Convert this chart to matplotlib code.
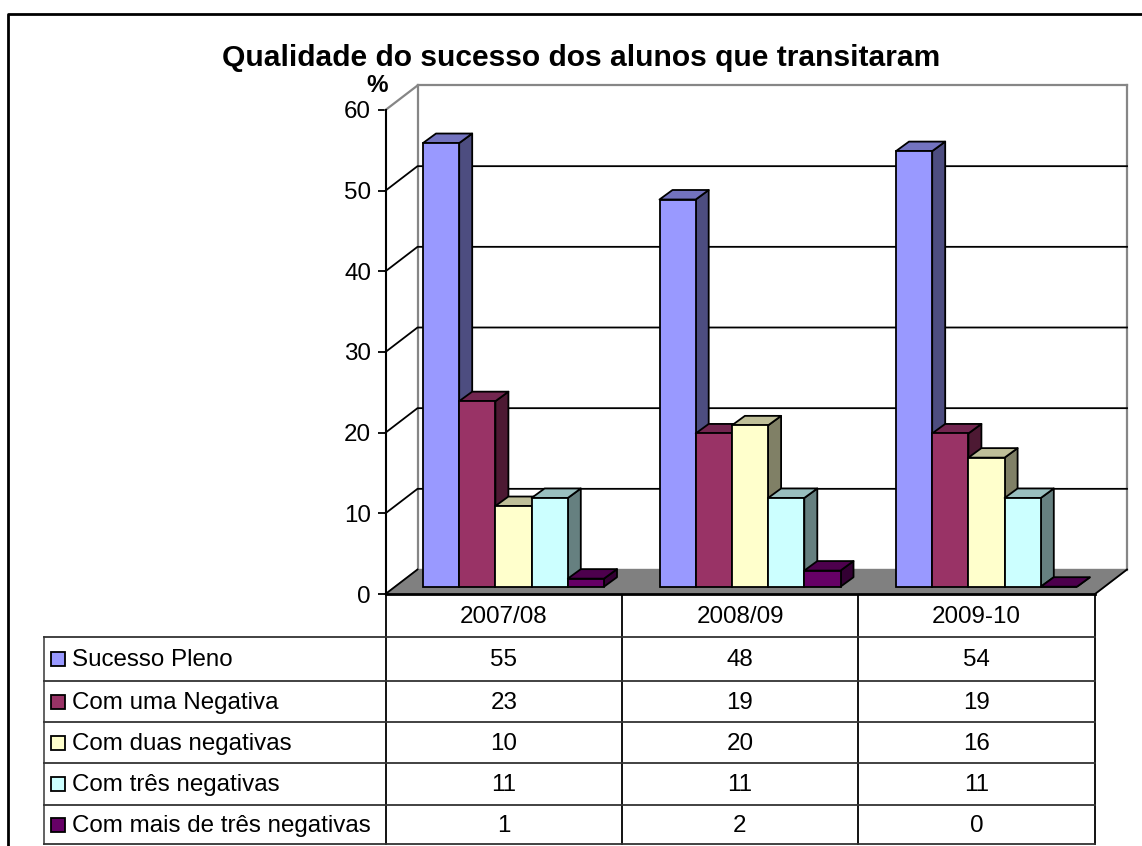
import matplotlib
matplotlib.use('Agg')

import matplotlib.pyplot as plt
from matplotlib.patches import Polygon, Rectangle

plt.rcParams['font.family'] = ['Liberation Sans', 'DejaVu Sans']

# ---------------- DATA ----------------
categories = ['2007/08', '2008/09', '2009-10']
series_names = ['Sucesso Pleno', 'Com uma Negativa', 'Com duas negativas',
                'Com três negativas', 'Com mais de três negativas']
sucesso_pleno = [55, 48, 54]
uma_negativa = [23, 19, 19]
duas_negativas = [10, 20, 16]
tres_negativas = [11, 11, 11]
mais_negativas = [1, 2, 0]
series_values = [sucesso_pleno, uma_negativa, duas_negativas, tres_negativas, mais_negativas]
y_ticks = [0, 10, 20, 30, 40, 50, 60]

# front, top and side colours (excel style shading)
front_colors = ['#9999FF', '#993366', '#FFFFCC', '#CCFFFF', '#660066']
top_colors = ['#7373BF', '#732650', '#BFBF99', '#99BFBF', '#4D004D']
side_colors = ['#4D4D80', '#4D1933', '#808066', '#668080', '#330033']

W, H = 1142, 846
fig = plt.figure(figsize=(W / 100, H / 100), dpi=100, facecolor='white')

# overlay in pixel coords for frame, table lines and labels
canvas = fig.add_axes([0, 0, 1, 1], zorder=1)
canvas.set_xlim(0, W)
canvas.set_ylim(H, 0)
canvas.axis('off')

# ---------------- GEOMETRY (pixels) ----------------
plot_left, plot_right = 385.5, 1095
y_zero, y_top = 594, 110
wall_dx, wall_dy = 32, 24.5
depth_dx, depth_dy = 13, 9.5
bar_px = 36.2
first_bar = 37.5
bar_base = 7.3
row_y = [637.5, 681, 722.5, 763.5, 805, 844.5]
col_x = [385.5, 622, 858, 1095]
table_left = 44

ax = fig.add_axes([plot_left / W, 1 - y_zero / H,
                   (plot_right - plot_left) / W, (y_zero - y_top) / H], zorder=2)
ax.set_xlim(0, len(categories))
ax.set_ylim(0, 60)
ax.patch.set_alpha(0)
for s in ax.spines.values():
    s.set_visible(False)

px_x = (plot_right - plot_left) / len(categories)
px_y = (y_zero - y_top) / 60
dx = wall_dx / px_x
dy = wall_dy / px_y
ddx = depth_dx / px_x
ddy = depth_dy / px_y
bw = bar_px / px_x
x0 = first_bar / px_x
base = bar_base / px_y
n_cat = len(categories)
wall_c = '#868686'

# ---------------- WALLS AND FLOOR ----------------
ax.add_patch(Polygon([(0, 0), (dx, dy), (n_cat + dx, dy), (n_cat, 0)],
                     closed=True, fc='#808080', ec='#808080', lw=1, clip_on=False, zorder=1))
ax.plot([dx, dx], [dy, 60 + dy], color=wall_c, lw=1.6, clip_on=False, zorder=2)
ax.plot([dx, n_cat + dx], [60 + dy, 60 + dy], color=wall_c, lw=1.6, clip_on=False, zorder=2)
ax.plot([n_cat + dx, n_cat + dx], [dy, 60 + dy], color=wall_c, lw=1.6, clip_on=False, zorder=2)
ax.plot([0, dx], [60, 60 + dy], color=wall_c, lw=1.6, clip_on=False, zorder=2)

# gridlines on back wall with the little diagonal on the side wall
for t in y_ticks[1:-1]:
    ax.plot([0, dx, n_cat + dx], [t, t + dy, t + dy], color='black', lw=1.3, clip_on=False, zorder=3)
ax.plot([0, dx], [0, dy], color='black', lw=1.3, clip_on=False, zorder=3)
ax.plot([n_cat, n_cat + dx], [0, dy], color='black', lw=1.3, clip_on=False, zorder=3)

# ---------------- BARS ----------------
z = 4
for c in range(n_cat):
    for s, vals in enumerate(series_values):
        left = c + x0 + s * bw
        v = vals[c]
        right = left + bw
        top = base + v
        ax.add_patch(Polygon([(right, base), (right + ddx, base + ddy),
                              (right + ddx, top + ddy), (right, top)],
                             closed=True, fc=side_colors[s], ec='black', lw=1.3,
                             joinstyle='round', clip_on=False, zorder=z))
        ax.add_patch(Polygon([(left, top), (left + ddx, top + ddy),
                              (right + ddx, top + ddy), (right, top)],
                             closed=True, fc=top_colors[s], ec='black', lw=1.3,
                             joinstyle='round', clip_on=False, zorder=z))
        ax.bar(left, v, width=bw, bottom=base, align='edge', color=front_colors[s],
               edgecolor='black', linewidth=1.3, clip_on=False, zorder=z)
        z += 1

# ---------------- Y AXIS ----------------
ax.set_xticks([])
ax.set_yticks(y_ticks)
ax.tick_params(axis='y', length=6, width=1.3, labelsize=17.4, pad=4.5, color='black')
ax.spines['left'].set_visible(True)
ax.spines['left'].set_linewidth(1.5)
ax.plot([0, n_cat], [0, 0], color='black', lw=2, clip_on=False, zorder=3)

# ---------------- TITLE ----------------
canvas.text(581, 66.5, 'Qualidade do sucesso dos alunos que transitaram', ha='center', va='baseline',
            fontsize=21.6, fontweight='bold')
canvas.text(377.5, 91.5, '%', ha='center', va='baseline', fontsize=17.4, fontweight='bold')

# ---------------- FRAME ----------------
# right and bottom edges run off the picture
canvas.plot([7.5, 7.5, W], [H, 14, 14], color='black', lw=2)

# ---------------- TABLE ----------------
for x in col_x:
    canvas.plot([x, x], [y_zero, row_y[-1]], color='black', lw=1.3)
canvas.plot([table_left, table_left], [row_y[0], row_y[-1]], color='#555555', lw=1.3)
for y in row_y:
    canvas.plot([table_left, col_x[-1]], [y, y], color='#333333', lw=1.3)

for j, cat in enumerate(categories):
    xc = (col_x[j] + col_x[j + 1]) / 2
    canvas.text(xc, (y_zero + row_y[0]) / 2 + 1, cat, ha='center', va='center', fontsize=17.4)
    for i, vals in enumerate(series_values):
        canvas.text(xc, (row_y[i] + row_y[i + 1]) / 2 + 1, str(vals[j]), ha='center', va='center', fontsize=17.4)

for i, name in enumerate(series_names):
    yc = (row_y[i] + row_y[i + 1]) / 2
    canvas.add_patch(Rectangle((50.5, yc - 7), 14, 14, fc=front_colors[i], ec='black', lw=1.3))
    canvas.text(72, yc + 1, name, ha='left', va='center', fontsize=17.4)

fig.savefig('out.png', dpi=100)
